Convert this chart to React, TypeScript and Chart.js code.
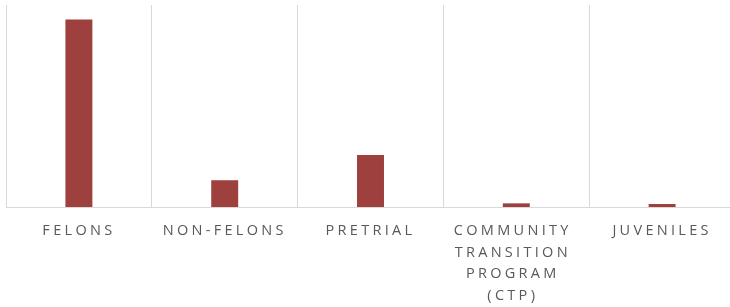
import React, { useEffect, useRef } from "react";
import { Chart, registerables } from "chart.js";

Chart.register(...registerables);

const categories: (string | string[])[] = [
  "FELONS",
  "NON-FELONS",
  "PRETRIAL",
  ["COMMUNITY ", "TRANSITION ", "PROGRAM ", "(CTP) "],
  "JUVENILES",
];
const values = [7430, 1060, 2060, 145, 118];
const yMax = 8000;

const SPACING = "3.3px";
const spacingPlugin = {
  id: "letterSpacing",
  beforeUpdate(chart: any) {
    chart.ctx.letterSpacing = SPACING;
  },
  beforeLayout(chart: any) {
    chart.ctx.letterSpacing = SPACING;
  },
  beforeDraw(chart: any) {
    chart.ctx.letterSpacing = SPACING;
  },
};

export default function App() {
  const ref = useRef<HTMLCanvasElement>(null);
  useEffect(() => {
    if (!ref.current) return;
    const chart = new Chart(ref.current, {
      type: "bar",
      data: {
        labels: categories,
        datasets: [
          {
            data: values,
            backgroundColor: "#9E413E",
            categoryPercentage: 1,
            barPercentage: 0.185,
          },
        ],
      },
      options: {
        animation: false,
        responsive: true,
        maintainAspectRatio: false,
        layout: { padding: { left: 6, top: 5, right: 0, bottom: 0 } },
        plugins: { legend: { display: false }, tooltip: { enabled: false } },
        scales: {
          x: {
            grid: { color: "#D9D9D9", drawTicks: false, offset: true, lineWidth: 1 },
            border: { display: true, color: "#D9D9D9", width: 1 },
            ticks: {
              color: "#595959",
              padding: 13.5,
              maxRotation: 0,
              autoSkip: false,
              font: { family: "'Open Sans'", size: 14.5, lineHeight: "21.5px" },
            },
            afterFit(scale: any) {
              scale.height = 100;
            },
          },
          y: {
            display: false,
            min: 0,
            max: yMax,
          },
        },
      },
      plugins: [spacingPlugin],
    });
    return () => chart.destroy();
  }, []);
  return (
    <div style={{ position: "fixed", left: 0, top: 0, width: 735, height: 307, overflow: "hidden", background: "#fff" }}>
      <canvas ref={ref} />
    </div>
  );
}
